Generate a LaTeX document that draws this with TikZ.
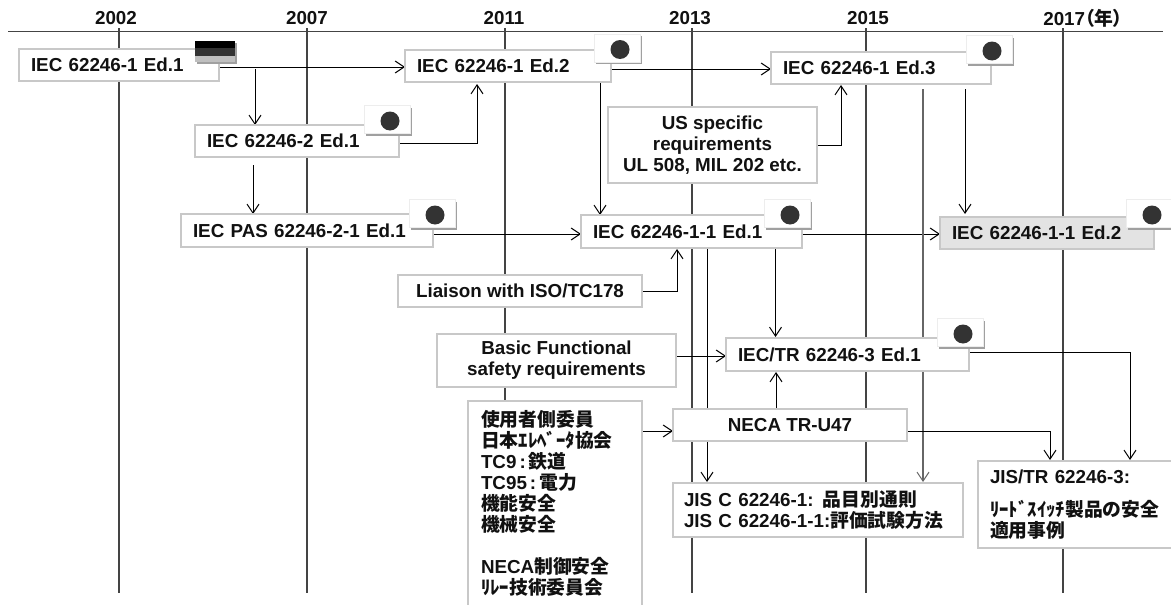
\documentclass[tikz,border=0pt]{standalone}
\usepackage{fontspec}
\setmainfont{Liberation Sans}
\newfontfamily\cjkf{Noto Sans CJK JP}
\newfontfamily\cjkp[RawFeature=+palt]{Noto Sans CJK JP}
\newcommand\jp[1]{{\cjkf #1}}
\newcommand\jpp[1]{{\cjkp #1}}
\usetikzlibrary{arrows.meta,backgrounds}
\definecolor{bordc}{HTML}{C8C8C8}
\definecolor{linec}{HTML}{444444}
\definecolor{inkc}{HTML}{111111}
\definecolor{grayln}{HTML}{666666}
\definecolor{shadc}{HTML}{A0A0A0}
\tikzset{
  tfont/.style={font=\fontsize{18.8}{21}\selectfont\bfseries,text=inkc},
  bx/.style={rectangle,draw=bordc,line width=1.2pt,fill=white,inner ysep=0pt,outer sep=0pt,tfont},
  ltb/.style 2 args={bx,align=left,inner xsep=12pt,text width=#1pt-24pt,minimum height=#2pt},
  ctb/.style 2 args={bx,align=center,inner xsep=0pt,minimum width=#1pt,minimum height=#2pt},
  yr/.style={tfont,inner sep=0pt},
  tline/.style={draw=linec,line width=1.6pt},
  hrule/.style={draw=linec,line width=1pt},
  conn/.style={draw=black,line width=1pt,-{Straight Barb[length=9pt,width=12pt,line width=1pt]}},
  gconn/.style={conn,draw=grayln,line width=1.2pt},
  flagw/.style={rectangle,fill=white,draw=white!93!black,line width=.8pt,inner sep=0pt,minimum width=46pt,minimum height=28pt},
  flags/.style={rectangle,fill=shadc,inner sep=0pt,minimum width=46pt,minimum height=28pt},
  disc/.style={circle,fill=black!80,inner sep=0pt,minimum size=19pt},
}
% circle centre given
\newcommand\jflag[3]{%
  \node[flags] (#1s) at (#2-1.5,#3+.5) {};
  \node[flagw] (#1) at (#2-3,#3-1.5) {};
  \node[disc] (#1d) at (#2,#3) {};
}
\begin{document}
\begin{tikzpicture}[x=1pt,y=-1pt]
\useasboundingbox (0,0) rectangle (1171,605);
\clip (0,0) rectangle (1171,605);
% year labels
\node[yr] (y02) at (116,18) {2002};
\node[yr] (y07) at (307,18) {2007};
\node[yr] (y11) at (504,18) {2011};
\node[yr] (y13) at (690,18) {2013};
\node[yr] (y15) at (868,18) {2015};
\node[yr] (y17) at (1083,18) {2017\jpp{（年）}};
\coordinate (rl) at (8,31);
\coordinate (rr) at (1163,31);
\foreach \n/\x in {a/119,b/307,c/505,d/692,e/866,f/1063}{
  \coordinate (t\n) at (\x,28);
  \coordinate (u\n) at (\x,593);
}
% boxes
\node[ltb={200}{32}] (A) at (119,65) {IEC 62246-1 Ed.1};
\node[ltb={206}{32}] (B) at (508,66) {IEC 62246-1 Ed.2};
\node[ltb={220}{32}] (C) at (881,68) {IEC 62246-1 Ed.3};
\node[ltb={204}{32}] (D) at (297,141) {IEC 62246-2 Ed.1};
\node[ltb={252}{33}] (E) at (307,230.5) {IEC PAS 62246-2-1 Ed.1};
\node[ltb={221}{33}] (F) at (691.5,231.5) {IEC 62246-1-1 Ed.1};
\node[ltb={214}{32},fill=black!11] (G) at (1047,233) {IEC 62246-1-1 Ed.2};
\node[ctb={209}{76}] (H) at (712.5,145) {US specific\\requirements\\UL 508, MIL 202 etc.};
\node[ctb={244}{32}] (I) at (520,291) {Liaison with ISO/TC178};
\node[ctb={239}{53}] (J) at (556.5,360.5) {Basic Functional\\safety requirements};
\node[ltb={174}{204},draw=none,inner xsep=13pt,text width=148pt] (K) at (555,503) {\jp{使用者側委員}\\\jp{日本ｴﾚﾍﾞｰﾀ協会}\\TC9\hspace{3pt}:\hspace{3pt}\jp{鉄道}\\TC95\hspace{3pt}:\hspace{3pt}\jp{電力}\\\jp{機能安全}\\\jp{機械安全}\\[21pt]NECA\jp{制御安全}\\\jp{ﾘﾚｰ技術委員会}};
\node[ctb={234}{32}] (L) at (790,425) {NECA TR-U47};
\node[ltb={243}{33}] (M) at (847.5,354.5) {IEC/TR 62246-3 Ed.1};
\node[ltb={290}{54},inner xsep=11pt,text width=268pt] (N) at (818,510) {JIS C 62246-1: \jp{品目別通則}\\JIS C 62246-1-1:\jp{評価試験方法}};
\node[ltb={197}{87}] (O) at (1076.5,504.5) {JIS/TR 62246-3:\\[12pt]\jp{ﾘｰﾄﾞｽｲｯﾁ製品の安全}\\\jp{適用事例}};
\draw[draw=bordc,line width=1.2pt] (K.south west) -- (K.north west) -- (K.north east) -- (K.south east);
% German flag
\node[rectangle,fill=shadc,inner sep=0pt,minimum width=40pt,minimum height=21pt] (fAs) at (217,53.5) {};
\node[rectangle,fill=black,inner sep=0pt,minimum width=40pt,minimum height=7pt] (fA1) at (215,44.5) {};
\node[rectangle,fill=black!80,inner sep=0pt,minimum width=40pt,minimum height=8pt] (fA2) at (215,52) {};
\node[rectangle,fill=black!25,inner sep=0pt,minimum width=40pt,minimum height=6pt] (fA3) at (215,59) {};
% Japanese flags
\jflag{fD}{390}{121}
\jflag{fE}{435}{215}
\jflag{fB}{620}{49.5}
\jflag{fC}{992}{51}
\jflag{fF}{790}{215}
\jflag{fG}{1152}{215}
\jflag{fM}{963}{334}
\begin{scope}[on background layer]
\foreach \n in {a,b,c,d,e,f}{\draw[tline] (t\n) -- (u\n);}
\draw[hrule] (rl) -- (rr);
\draw[conn] ([yshift=-2pt]A.east) -- ([yshift=-1pt]B.west);
\draw[conn] ([xshift=36pt,yshift=-4pt]A.east) -- ([xshift=-42pt]D.north);
\draw[conn] ([xshift=-44pt,yshift=-8pt]D.south) -- ([xshift=-54pt]E.north);
\draw[conn] ([yshift=-2pt]D.east) -| ([xshift=-31pt,yshift=-2pt]B.south);
\draw[conn] ([yshift=-3pt]B.east) -- ([yshift=-1pt]C.west);
\draw[conn] ([xshift=92pt]B.south) -- ([xshift=-91.5pt]F.north);
\draw[conn] (H.east) -| ([xshift=-40pt,yshift=-1pt]C.south);
\draw[conn] ([yshift=-3.5pt]E.east) -- ([yshift=-2.5pt]F.west);
\draw[conn] ([yshift=-2.5pt]F.east) -- ([yshift=-1pt]G.west);
\draw[conn] ([xshift=84pt,yshift=-5pt]C.south) -- ([xshift=-82pt,yshift=3pt]G.north);
\draw[gconn] ([xshift=42pt,yshift=-5pt]C.south) -- ([xshift=105pt,yshift=1pt]N.north);
\draw[conn] (I.east) -| ([xshift=-14.5pt,yshift=-1pt]F.south);
\draw[conn] ([xshift=15.5pt]F.south) -- ([xshift=-111pt,yshift=1pt]N.north);
\draw[conn] ([xshift=84pt]F.south) -- ([xshift=-72pt,yshift=1pt]M.north);
\draw[conn] ([yshift=4.5pt]J.east) -- ([yshift=-1.5pt]M.west);
\draw[conn] ([xshift=-14pt]L.north) -- ([xshift=-71.5pt,yshift=-1pt]M.south);
\draw[conn] ([yshift=72pt]K.east) -- ([yshift=-6pt]L.west);
\draw[conn] ([yshift=-6pt]L.east) -| ([xshift=-26.5pt,yshift=1pt]O.north);
\draw[conn] ([yshift=2.5pt]M.east) -| ([xshift=53.5pt,yshift=1pt]O.north);
\end{scope}
\end{tikzpicture}
\end{document}
